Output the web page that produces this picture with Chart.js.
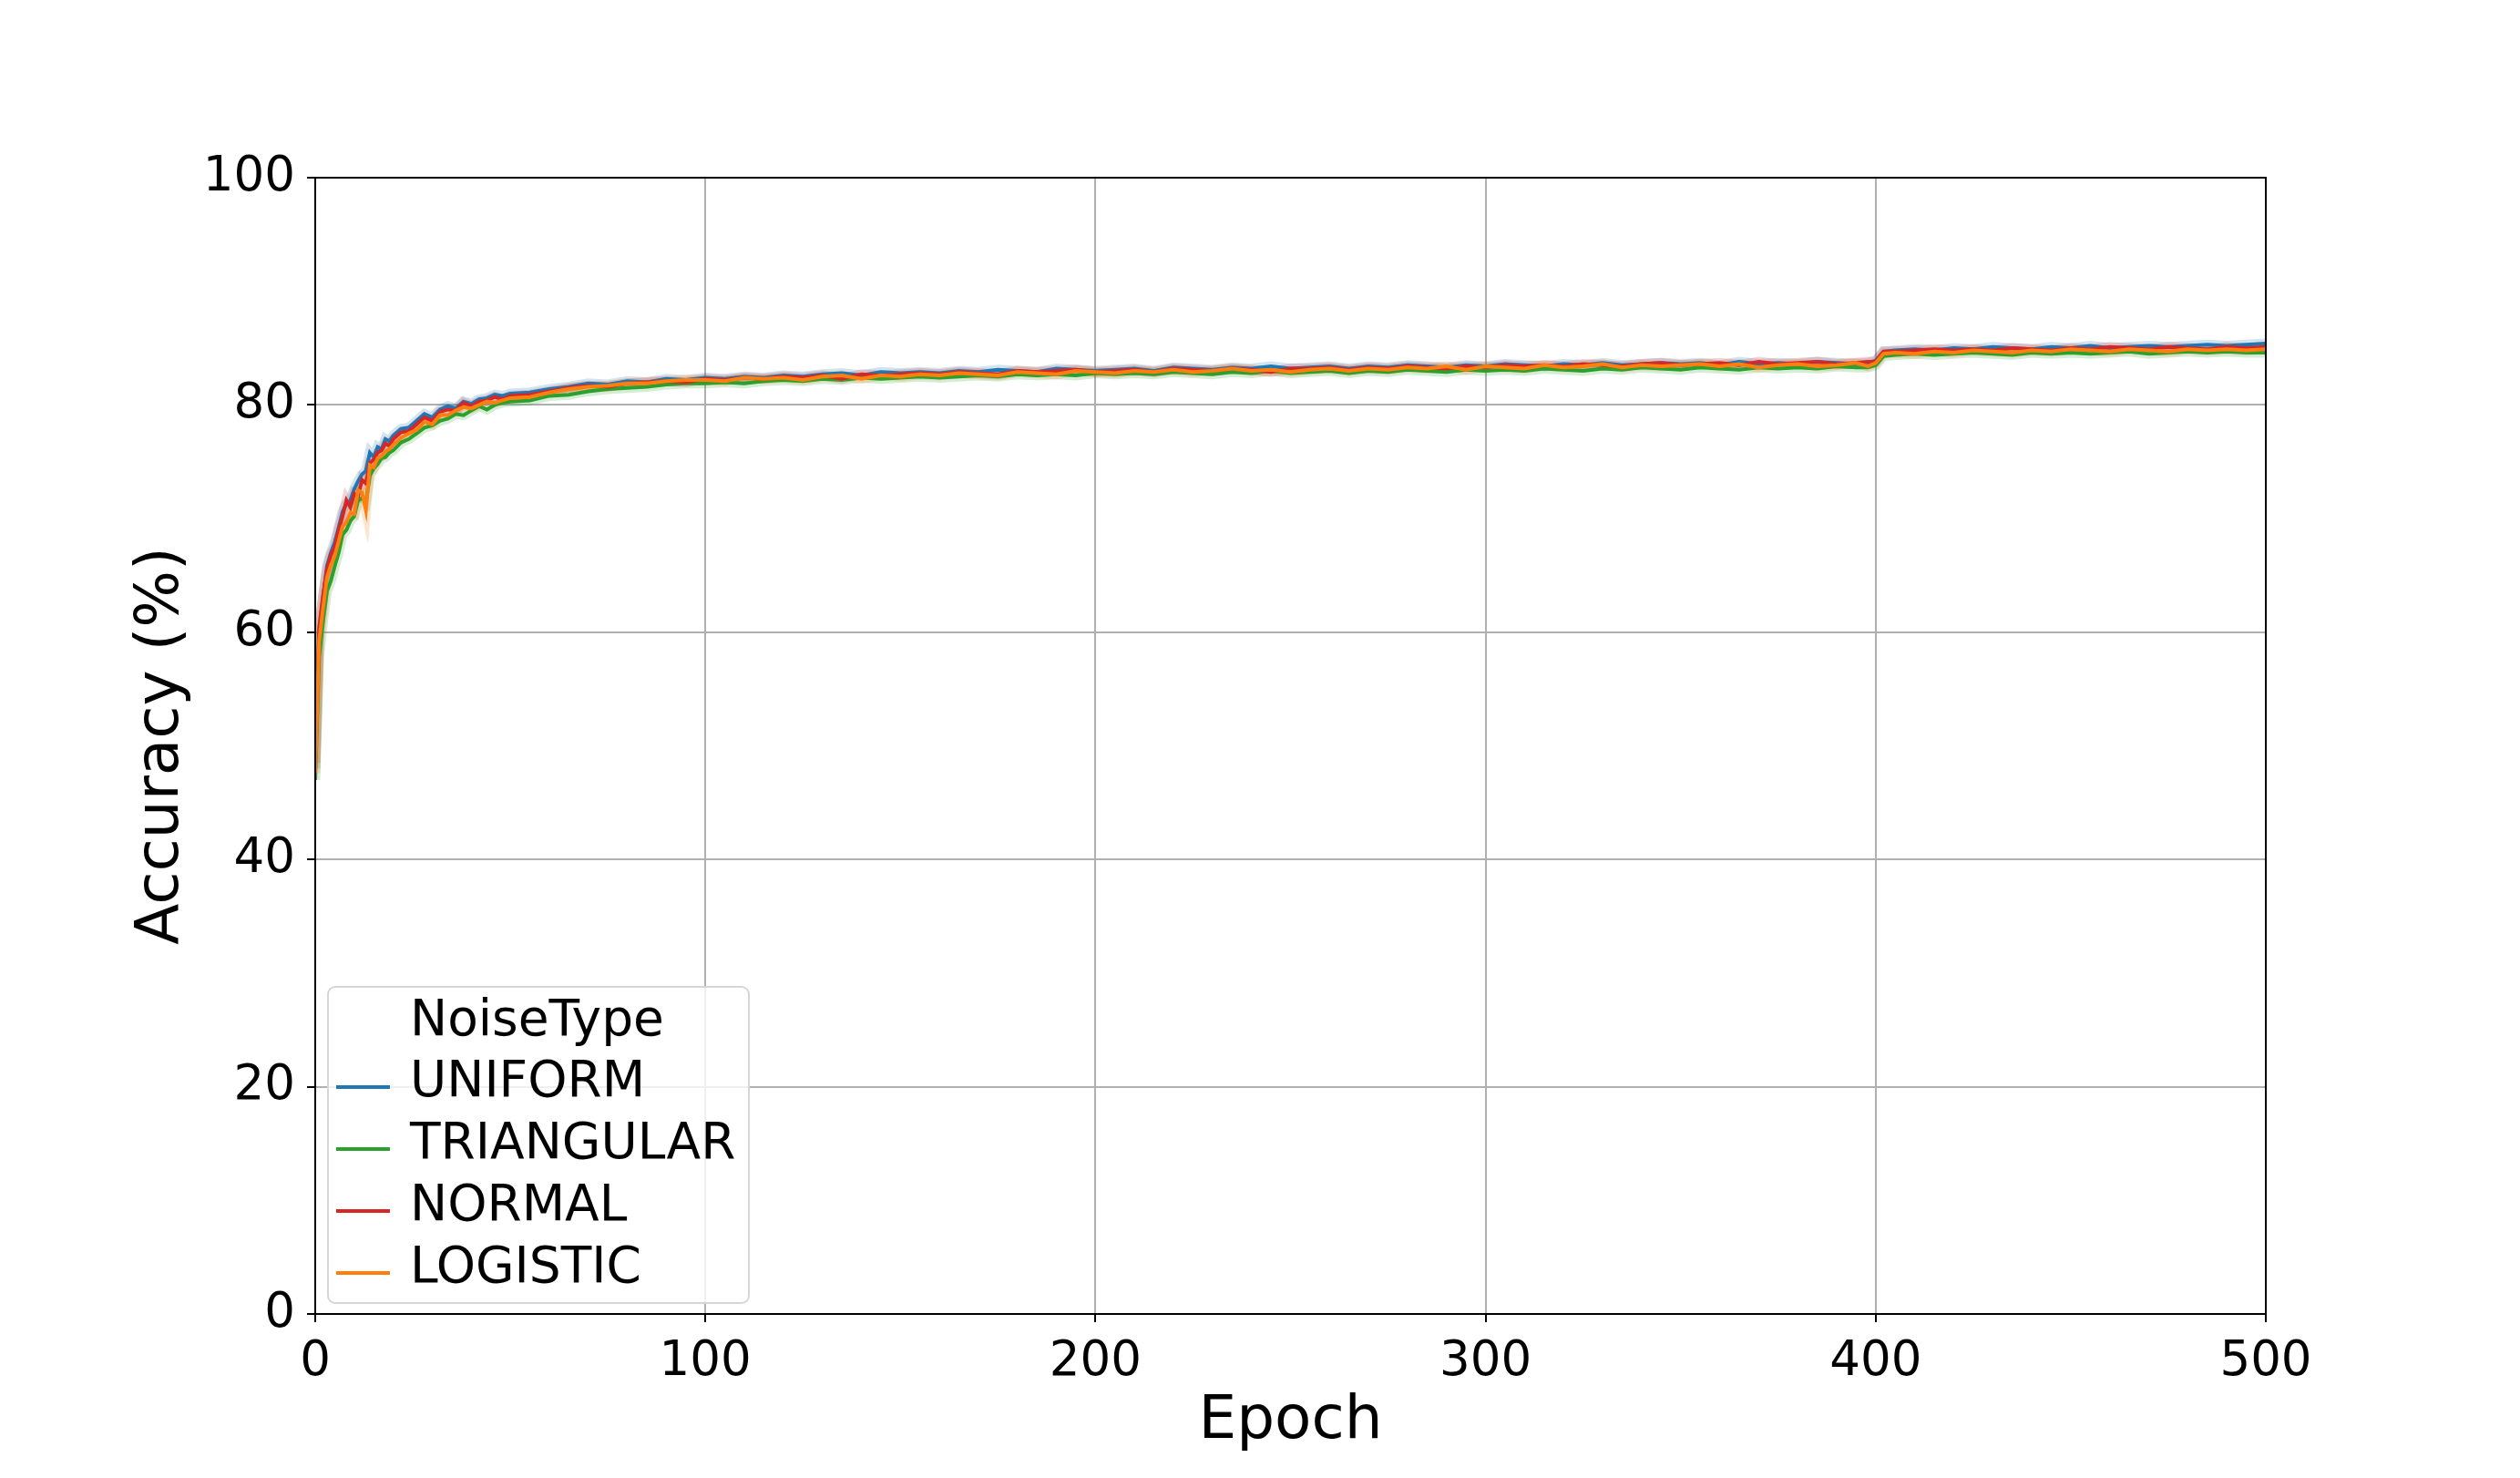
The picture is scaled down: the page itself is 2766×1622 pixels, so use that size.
<!DOCTYPE html>
<html>
<head>
<meta charset="utf-8">
<script src="https://cdn.jsdelivr.net/npm/chart.js@4.4.1/dist/chart.umd.min.js"></script>
<style>
  html, body { margin: 0; padding: 0; background: #fff; }
  #chart { display: block; }
</style>
</head>
<body>
<canvas id="chart" width="2766" height="1622"></canvas>
<script>
// epochs sampled from the plot (dense at the start, every 5 later)
const epochs = [
  0, 1, 2, 3, 4, 5, 6, 7, 8, 9, 10, 11, 12, 13, 14, 15, 16, 17, 18, 19, 20,
  22, 24, 26, 28, 30, 32, 34, 36, 38, 40, 42, 44, 46, 48, 50,
  55, 60, 65, 70, 75, 80, 85, 90, 95, 100,
  105, 110, 115, 120, 125, 130, 135, 140, 145, 150,
  155, 160, 165, 170, 175, 180, 185, 190, 195, 200,
  205, 210, 215, 220, 225, 230, 235, 240, 245, 250,
  255, 260, 265, 270, 275, 280, 285, 290, 295, 300,
  305, 310, 315, 320, 325, 330, 335, 340, 345, 350,
  355, 360, 365, 370, 375, 380, 385, 390, 395,
  398, 400, 402,
  405, 410, 415, 420, 425, 430, 435, 440, 445, 450,
  455, 460, 465, 470, 475, 480, 485, 490, 495, 500
];

const uniform = [
  48.0, 60.0, 63.0, 65.8, 67.0, 67.9, 69.2, 70.6, 71.3, 71.6, 72.6, 73.3, 73.9, 74.2, 75.8, 75.4, 76.3, 76.1, 77.0, 76.8, 77.3,
  77.9, 78.0, 78.6, 79.2, 78.9, 79.6, 79.9, 79.7, 80.3, 80.1, 80.5, 80.6, 80.9, 80.8, 81.0,
  81.1, 81.4, 81.6, 81.9, 81.8, 82.1, 82.0, 82.3, 82.2, 82.4,
  82.3, 82.5, 82.4, 82.6, 82.5, 82.7, 82.8, 82.6, 82.9, 82.8,
  82.9, 82.8, 83.0, 82.9, 83.1, 83.0, 82.9, 83.2, 83.1, 83.0,
  83.1, 83.2, 83.0, 83.3, 83.2, 83.1, 83.3, 83.2, 83.4, 83.2,
  83.3, 83.4, 83.2, 83.4, 83.3, 83.5, 83.4, 83.3, 83.5, 83.4,
  83.6, 83.5, 83.4, 83.6, 83.5, 83.7, 83.5, 83.6, 83.7, 83.6,
  83.7, 83.5, 83.8, 83.6, 83.7, 83.6, 83.8, 83.7, 83.6,
  83.7, 83.9, 84.7,
  84.8, 84.9, 84.8, 85.0, 84.9, 85.1, 85.0, 84.9, 85.1, 85.0,
  85.2, 85.0, 85.1, 85.2, 85.1, 85.2, 85.3, 85.2, 85.3, 85.4
];

const triangular = [
  47.0, 57.8, 61.0, 63.6, 64.5, 65.8, 67.0, 68.6, 69.0, 69.8, 70.2, 71.6, 71.8, 71.5, 73.8, 74.4, 74.8, 75.3, 75.4, 75.8, 76.0,
  76.7, 77.0, 77.5, 78.0, 78.2, 78.6, 78.8, 79.2, 79.1, 79.5, 79.9, 79.6, 80.0, 80.2, 80.3,
  80.4, 80.8, 80.9, 81.2, 81.4, 81.5, 81.6, 81.8, 81.9, 81.9,
  82.0, 81.9, 82.1, 82.2, 82.1, 82.3, 82.2, 82.4, 82.3, 82.4,
  82.5, 82.4, 82.5, 82.6, 82.5, 82.7, 82.6, 82.7, 82.6, 82.8,
  82.7, 82.8, 82.7, 82.9, 82.8, 82.7, 82.9, 82.8, 83.0, 82.8,
  82.9, 83.0, 82.8, 83.0, 82.9, 83.1, 83.0, 82.9, 83.1, 83.0,
  83.1, 83.0, 83.2, 83.1, 83.0, 83.2, 83.1, 83.3, 83.2, 83.1,
  83.3, 83.2, 83.1, 83.3, 83.2, 83.3, 83.2, 83.4, 83.3,
  83.3, 83.5, 84.3,
  84.4, 84.5, 84.4, 84.5, 84.6, 84.5, 84.4, 84.6, 84.5, 84.6,
  84.5, 84.6, 84.7, 84.5, 84.6, 84.7, 84.6, 84.7, 84.6, 84.6
];

const normal = [
  48.5, 60.4, 63.2, 65.5, 66.8, 67.5, 69.0, 70.2, 71.6, 71.0, 72.2, 72.0, 73.4, 73.1, 74.9, 75.2, 75.8, 76.0, 76.6, 76.4, 77.0,
  77.6, 77.7, 78.3, 78.9, 78.6, 79.4, 79.6, 79.5, 80.2, 79.9, 80.3, 80.4, 80.7, 80.5, 80.8,
  80.9, 81.2, 81.5, 81.7, 81.6, 81.9, 82.0, 82.1, 82.0, 82.3,
  82.2, 82.4, 82.3, 82.5, 82.4, 82.6, 82.3, 82.7, 82.6, 82.7,
  82.8, 82.7, 82.9, 82.8, 82.7, 83.0, 82.9, 83.0, 83.1, 82.9,
  83.0, 83.1, 82.9, 83.2, 83.1, 83.0, 83.2, 83.1, 82.9, 83.2,
  83.2, 83.3, 83.1, 83.3, 83.2, 83.4, 83.3, 83.2, 83.4, 83.3,
  83.5, 83.4, 83.5, 83.4, 83.6, 83.5, 83.4, 83.6, 83.7, 83.5,
  83.6, 83.7, 83.5, 83.8, 83.6, 83.7, 83.8, 83.6, 83.7,
  83.8, 83.8, 84.7,
  84.7, 84.8, 84.9, 84.8, 84.9, 84.8, 85.0, 84.9, 84.8, 85.0,
  84.9, 85.1, 85.0, 84.9, 85.1, 85.0, 84.9, 85.1, 85.0, 85.1
];

const logistic = [
  47.6, 59.2, 62.1, 64.8, 65.9, 66.7, 68.0, 69.3, 69.7, 70.5, 70.4, 72.5, 72.3, 70.7, 74.7, 74.5, 75.3, 75.5, 75.9, 76.1, 76.5,
  77.1, 77.5, 77.8, 78.5, 78.3, 79.1, 79.1, 79.5, 79.8, 79.7, 80.0, 80.3, 80.2, 80.4, 80.6,
  80.7, 81.1, 81.4, 81.6, 81.7, 81.9, 81.9, 82.1, 82.2, 82.2,
  82.1, 82.4, 82.3, 82.4, 82.2, 82.5, 82.6, 82.3, 82.6, 82.5,
  82.7, 82.6, 82.8, 82.7, 82.6, 82.9, 82.8, 82.7, 83.0, 82.9,
  82.8, 83.0, 82.9, 83.1, 82.9, 83.0, 83.2, 83.0, 83.1, 82.9,
  83.1, 83.2, 83.0, 83.2, 83.1, 83.3, 83.2, 83.4, 83.1, 83.4,
  83.3, 83.2, 83.5, 83.3, 83.4, 83.6, 83.3, 83.5, 83.4, 83.5,
  83.6, 83.4, 83.6, 83.3, 83.5, 83.6, 83.4, 83.5, 83.7,
  83.4, 83.7, 84.5,
  84.6, 84.5, 84.7, 84.6, 84.8, 84.7, 84.6, 84.8, 84.7, 84.9,
  84.8, 84.7, 84.9, 84.8, 84.7, 84.9, 84.8, 84.9, 84.8, 84.9
];

const seriesNames = ["UNIFORM", "TRIANGULAR", "NORMAL", "LOGISTIC"];
const seriesData = [uniform, triangular, normal, logistic];
const seriesColors = ["#1f77b4", "#2ca02c", "#d62728", "#ff7f0e"];
const xTicks = [0, 100, 200, 300, 400, 500];
const yTicks = [0, 20, 40, 60, 80, 100];

const FONT = "'DejaVu Sans', sans-serif";

function rgba(hex, a) {
  const r = parseInt(hex.slice(1, 3), 16);
  const g = parseInt(hex.slice(3, 5), 16);
  const b = parseInt(hex.slice(5, 7), 16);
  return `rgba(${r},${g},${b},${a})`;
}

const points = (vals) => epochs.map((e, i) => ({ x: e, y: vals[i] }));

const datasets = [];
// faint wide underlay, like the seaborn spread band
seriesNames.forEach((name, i) => {
  datasets.push({
    label: name + "_band",
    data: points(seriesData[i]),
    borderColor: rgba(seriesColors[i], 0.2),
    borderWidth: 11,
    pointRadius: 0,
    tension: 0,
    order: 20 - i
  });
});
seriesNames.forEach((name, i) => {
  datasets.push({
    label: name,
    data: points(seriesData[i]),
    borderColor: seriesColors[i],
    borderWidth: 4,
    pointRadius: 0,
    tension: 0,
    order: 4 - i
  });
});

// spines, axis titles and the in-plot legend
const decorations = {
  id: "decorations",
  afterDraw(chart) {
    const { ctx, chartArea: a } = chart;
    ctx.save();
    ctx.strokeStyle = "#000";
    ctx.lineWidth = 2;
    ctx.strokeRect(a.left, a.top, a.right - a.left, a.bottom - a.top);

    ctx.fillStyle = "#000";
    ctx.font = `66px ${FONT}`;
    ctx.textAlign = "center";
    ctx.textBaseline = "alphabetic";
    ctx.fillText("Epoch", (a.left + a.right) / 2, 1578);
    ctx.save();
    ctx.translate(195, (a.top + a.bottom) / 2);
    ctx.rotate(-Math.PI / 2);
    ctx.fillText("Accuracy (%)", 0, 0);
    ctx.restore();

    // legend box
    const bx = 360, by = 1083, bw = 462, bh = 347, r = 8;
    ctx.beginPath();
    ctx.moveTo(bx + r, by);
    ctx.arcTo(bx + bw, by, bx + bw, by + bh, r);
    ctx.arcTo(bx + bw, by + bh, bx, by + bh, r);
    ctx.arcTo(bx, by + bh, bx, by, r);
    ctx.arcTo(bx, by, bx + bw, by, r);
    ctx.closePath();
    ctx.fillStyle = "rgba(255,255,255,0.8)";
    ctx.fill();
    ctx.strokeStyle = "#d6d6d6";
    ctx.lineWidth = 2;
    ctx.stroke();

    ctx.fillStyle = "#000";
    ctx.font = `55px ${FONT}`;
    ctx.textAlign = "left";
    ctx.fillText("NoiseType", 450, 1136);
    seriesNames.forEach((name, i) => {
      const base = 1203 + i * 68;
      ctx.strokeStyle = seriesColors[i];
      ctx.lineWidth = 4;
      ctx.beginPath();
      ctx.moveTo(369, base - 10);
      ctx.lineTo(428, base - 10);
      ctx.stroke();
      ctx.fillText(name, 450, base);
    });
    ctx.restore();
  }
};

new Chart(document.getElementById("chart").getContext("2d"), {
  type: "line",
  data: { datasets },
  plugins: [decorations],
  options: {
    responsive: false,
    animation: false,
    events: [],
    layout: { padding: { left: 0, top: 195, right: 279, bottom: 0 } },
    plugins: { legend: { display: false }, tooltip: { enabled: false } },
    scales: {
      x: {
        type: "linear",
        min: 0, max: 500,
        afterFit: (s) => { s.height = 180; },
        afterBuildTicks: (s) => { s.ticks = xTicks.map(v => ({ value: v })); },
        ticks: { color: "#000", font: { family: FONT, size: 53 }, padding: 12, maxRotation: 0 },
        grid: { color: "#b0b0b0", lineWidth: 2, tickColor: "#000", tickWidth: 2, tickLength: 9 },
        border: { color: "#000", width: 2 }
      },
      y: {
        min: 0, max: 100,
        afterFit: (s) => { s.width = 346; },
        afterBuildTicks: (s) => { s.ticks = yTicks.map(v => ({ value: v })); },
        ticks: { color: "#000", font: { family: FONT, size: 53 }, padding: 13 },
        grid: { color: "#b0b0b0", lineWidth: 2, tickColor: "#000", tickWidth: 2, tickLength: 9 },
        border: { color: "#000", width: 2 }
      }
    }
  }
});
</script>
</body>
</html>
